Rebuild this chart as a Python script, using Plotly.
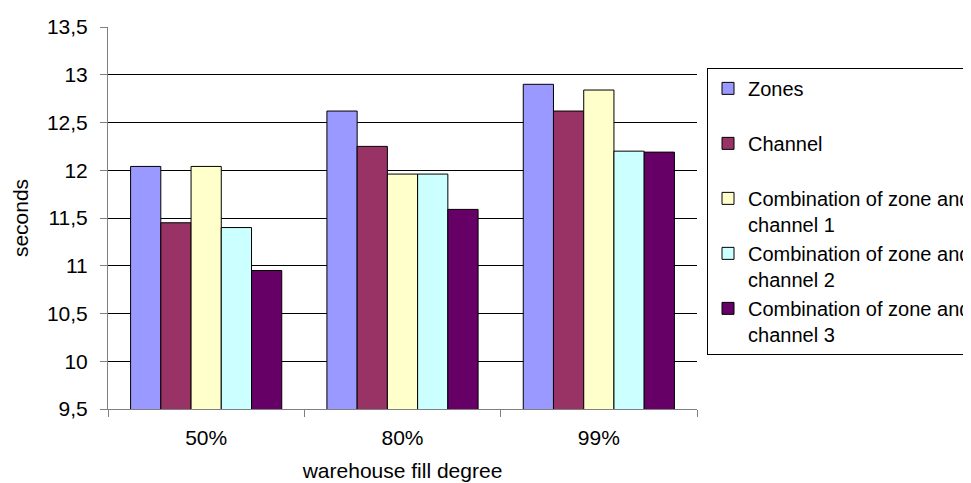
import plotly.graph_objects as go

categories = ["50%", "80%", "99%"]
series_names = [
    "Zones<br>\u00a0",
    "Channel<br>\u00a0",
    "Combination of zone and<br>channel 1",
    "Combination of zone and<br>channel 2",
    "Combination of zone and<br>channel 3",
]
zones = [12.04, 12.62, 12.90]
channel = [11.45, 12.25, 12.62]
comb1 = [12.04, 11.96, 12.84]
comb2 = [11.40, 11.96, 12.20]
comb3 = [10.95, 11.59, 12.19]
colors = ["#9999FF", "#993366", "#FFFFCC", "#CCFFFF", "#660066"]
y_ticks = [9.5, 10, 10.5, 11, 11.5, 12, 12.5, 13, 13.5]
y_ticktext = ["9,5", "10", "10,5", "11", "11,5", "12", "12,5", "13", "13,5"]

fig = go.Figure()
for i, (name, vals) in enumerate(zip(series_names, [zones, channel, comb1, comb2, comb3])):
    fig.add_trace(go.Bar(
        x=categories, y=vals, name=name,
        marker=dict(color=colors[i], line=dict(color="#000000", width=1)),
    ))

font = "Liberation Sans, Arial, sans-serif"
fig.update_layout(
    width=971, height=483,
    margin=dict(l=100, r=282, t=19, b=82, autoexpand=False),
    paper_bgcolor="white", plot_bgcolor="white",
    separators=", ",
    barmode="group", bargap=0.23, bargroupgap=0,
    font=dict(family=font, size=21, color="#000000"),
    showlegend=True,
    legend=dict(
        x=1.017, xanchor="left", y=0.893, yanchor="top",
        bordercolor="#000000", borderwidth=1,
        font=dict(family=font, size=20, color="#000000"),
        tracegroupgap=0, traceorder="normal", valign="top",
        bgcolor="white",
    ),
    xaxis=dict(
        title=dict(text="warehouse fill degree", font=dict(size=21), standoff=15),
        showline=True, linecolor="#808080", linewidth=1,
        ticks="outside", tickson="boundaries", ticklen=7, tickcolor="#808080",
        tickfont=dict(size=21),
        ticklabelstandoff=10,
    ),
    yaxis=dict(
        title=dict(text="seconds", font=dict(size=21), standoff=12),
        range=[9.5, 13.5], tickvals=y_ticks, ticktext=y_ticktext,
        showgrid=True, gridcolor="#000000", gridwidth=1,
        showline=True, linecolor="#808080", linewidth=1,
        ticks="outside", ticklen=7, tickcolor="#808080",
        tickfont=dict(size=21),
        ticklabelstandoff=8,
        zeroline=False,
    ),
)

fig.write_html("out.html")
